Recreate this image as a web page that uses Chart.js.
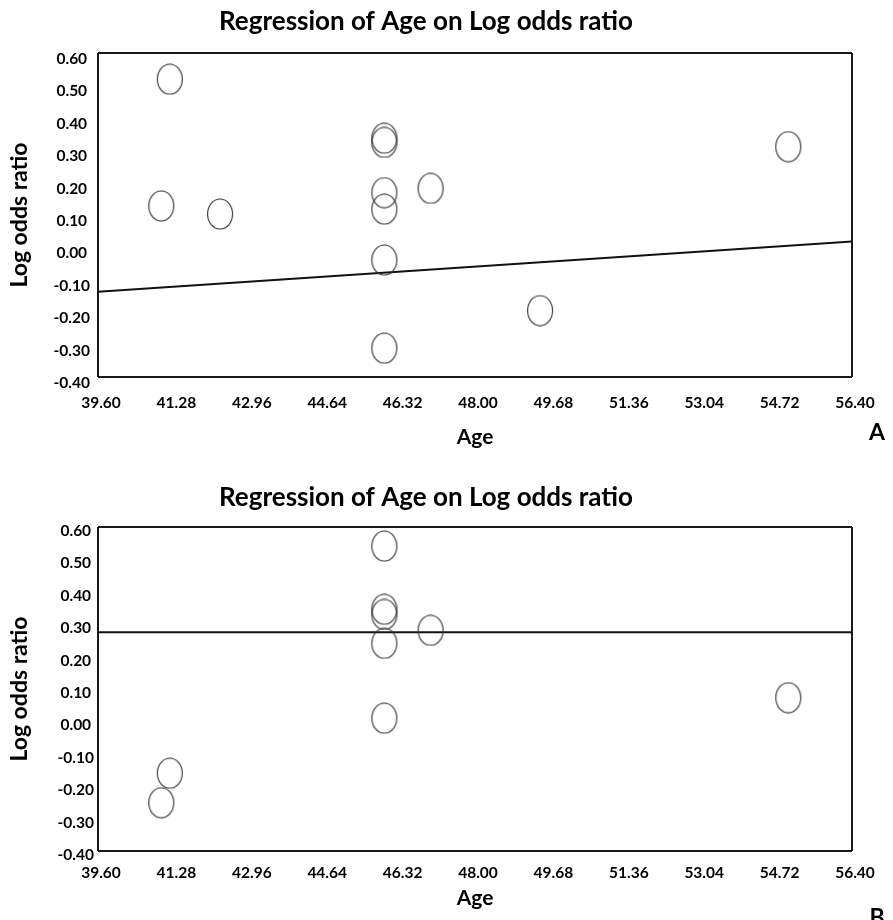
<!DOCTYPE html>
<html><head><meta charset="utf-8">
<script src="https://cdn.jsdelivr.net/npm/chart.js@4.4.1/dist/chart.umd.min.js"></script>
<style>
html,body{margin:0;padding:0;background:#fff;}
#wrap{position:relative;width:893px;height:920px;overflow:hidden;background:#fff;}
.panel{position:absolute;left:0;width:893px;height:460px;}
</style></head><body>
<div id="wrap">
<div class="panel" style="top:0"><canvas id="cA" width="893" height="460"></canvas></div>
<div class="panel" style="top:460px"><canvas id="cB" width="893" height="460"></canvas></div>
</div>
<script>
// ---- data ----
const titleText = 'Regression of Age on Log odds ratio';
const xAxisTitle = 'Age';
const yAxisTitle = 'Log odds ratio';
const panelLetters = ['A', 'B'];

const xTickValues = [39.60, 41.28, 42.96, 44.64, 46.32, 48.00, 49.68, 51.36, 53.04, 54.72, 56.40];
const yTickValues = [-0.40, -0.30, -0.20, -0.10, 0.00, 0.10, 0.20, 0.30, 0.40, 0.50, 0.60];

const ageA     = [41.20, 41.01, 42.32, 45.98, 45.98, 45.98, 45.98, 45.98, 45.98, 47.01, 54.98, 49.45];
const logOddsA = [0.519, 0.128, 0.103, 0.337, 0.324, 0.169, 0.118, -0.039, -0.311, 0.182, 0.311, -0.195];

const ageB     = [45.98, 45.98, 45.98, 45.98, 47.01, 45.98, 41.20, 41.01, 54.98];
const logOddsB = [0.541, 0.346, 0.330, 0.241, 0.281, 0.010, -0.160, -0.251, 0.073];

const fitAgeEnds = [39.60, 56.40];
const fitA = [-0.137, 0.018];
const fitB = [0.275, 0.275];

// ---- drawing ----
Chart.defaults.font.family = 'Lato, "Open Sans", sans-serif';
Chart.defaults.color = '#000';

function ellipseMarker() {
  const c = document.createElement('canvas');
  c.width = 28; c.height = 32;
  const g = c.getContext('2d');
  g.strokeStyle = '#333';
  g.lineWidth = 1.1;
  g.beginPath();
  g.ellipse(14, 16, 12.5, 15, 0, 0, Math.PI * 2);
  g.stroke();
  return c;
}
const marker = ellipseMarker();

function edgeColor(ctx) {
  const n = ctx.scale.ticks.length;
  return (ctx.index === 0 || ctx.index === n - 1) ? '#1a1a1a' : 'rgba(0,0,0,0)';
}

function makeChart(id, ages, odds, fit, letter, L) {
  const letterPlugin = {
    id: 'letter' + id,
    afterDraw(chart) {
      const c = chart.ctx;
      c.save();
      c.font = 'bold 23px Lato';
      c.fillStyle = '#000';
      c.textAlign = 'center';
      c.textBaseline = 'middle';
      c.fillText(letter, 877, L.letterY);
      c.restore();
    }
  };
  return new Chart(document.getElementById(id), {
    type: 'scatter',
    data: {
      datasets: [
        {
          type: 'line',
          data: fitAgeEnds.map((x, i) => ({x: x, y: fit[i]})),
          borderColor: '#111',
          borderWidth: 2,
          pointRadius: 0,
          fill: false,
          order: 2
        },
        {
          type: 'scatter',
          data: ages.map((x, i) => ({x: x, y: odds[i]})),
          pointStyle: marker,
          pointRadius: 14,
          order: 1
        }
      ]
    },
    options: {
      responsive: false,
      animation: false,
      devicePixelRatio: 1,
      events: [],
      layout: {padding: {left: 0, right: 41, top: 0, bottom: L.padBottom}},
      plugins: {
        legend: {display: false},
        tooltip: {enabled: false},
        title: {
          display: true,
          text: titleText,
          color: '#000',
          font: {size: 26, weight: 'bold', family: 'Lato'},
          padding: {top: L.titleTop, bottom: L.titleBottom}
        }
      },
      scales: {
        x: {
          type: 'linear',
          min: 39.60, max: 56.40,
          afterBuildTicks: s => { s.ticks = xTickValues.map(v => ({value: v})); },
          afterFit: s => { s.height = L.xHeight; },
          border: {display: false},
          grid: {color: edgeColor, lineWidth: 2, drawTicks: false},
          ticks: {
            autoSkip: false, maxRotation: 0, padding: L.xTickPad, labelOffset: 3,
            color: '#000', font: {size: 15.5, weight: 'bold', family: 'Lato'},
            callback: v => Number(v).toFixed(2)
          },
          title: {display: true, text: xAxisTitle, color: '#000',
                  font: {size: 21, weight: 'bold', family: 'Lato'},
                  padding: {top: 0, bottom: 3.4}}
        },
        y: {
          type: 'linear',
          min: -0.40, max: 0.60,
          afterBuildTicks: s => { s.ticks = yTickValues.map(v => ({value: v})); },
          afterFit: s => { s.width = 98; },
          border: {display: false},
          grid: {color: edgeColor, lineWidth: 2, drawTicks: false},
          ticks: {
            autoSkip: false, crossAlign: 'center', padding: L.yTickPad, labelOffset: L.yLabelOffset,
            color: '#000', font: {size: 15.5, weight: 'bold', family: 'Lato'},
            callback: v => Number(v).toFixed(2)
          },
          title: {display: true, text: yAxisTitle, color: '#000',
                  font: {size: 23, weight: 'bold', family: 'Lato'},
                  padding: {top: 6.2, bottom: 0}}
        }
      }
    },
    plugins: [letterPlugin]
  });
}

makeChart('cA', ageA, logOddsA, fitA, panelLetters[0], {
  titleTop: 6.4, titleBottom: 15.4, padBottom: 7, xHeight: 76, xTickPad: 17,
  yTickPad: 8, yLabelOffset: 6, letterY: 433
});
makeChart('cB', ageB, logOddsB, fitB, panelLetters[1], {
  titleTop: 21.7, titleBottom: 14.1, padBottom: 6, xHeight: 63, xTickPad: 13,
  yTickPad: 4, yLabelOffset: 4, letterY: 458
});
</script>
</body></html>
